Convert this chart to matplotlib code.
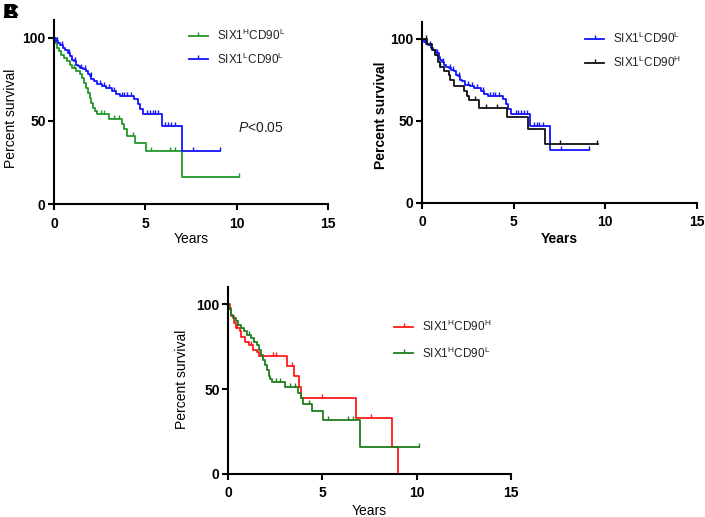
import numpy as np
import matplotlib
matplotlib.use("Agg")
import matplotlib.pyplot as plt
from matplotlib.lines import Line2D

plt.rcParams["font.family"] = ["Liberation Sans", "DejaVu Sans"]
plt.rcParams["mathtext.fontset"] = "custom"
plt.rcParams["mathtext.rm"] = "Liberation Sans"
plt.rcParams["mathtext.it"] = "Liberation Sans:italic"
plt.rcParams["mathtext.bf"] = "Liberation Sans:bold"
plt.rcParams["mathtext.default"] = "regular"

# Kaplan-Meier step curves (years, percent survival after each event)
hl_t = [0, 0.05, 0.15, 0.25, 0.4, 0.55, 0.7, 0.85, 1.0, 1.2, 1.4, 1.55, 1.65, 1.75,
        1.85, 1.95, 2.05, 2.15, 2.25, 2.35, 3.0, 3.72, 3.85, 4.0, 4.45, 5.05, 6.98, 10.1]
hl_s = [100, 97, 94, 92, 90, 88, 86, 84, 82, 80, 78, 76, 73, 70,
        67, 64, 61, 58, 56, 54, 51, 48, 45, 41, 37, 32, 16, 16]
hl_cens = [1.1, 2.55, 2.75, 3.3, 3.55, 4.3, 5.3, 6.35, 6.6, 10.1]

ll_t = [0, 0.1, 0.2, 0.35, 0.5, 0.6, 0.75, 0.9, 1.0, 1.1, 1.2, 1.3, 1.45, 1.6, 1.75,
        1.85, 1.95, 2.05, 2.2, 2.35, 2.6, 2.85, 3.2, 3.4, 3.6, 4.4, 4.6, 4.7, 4.85,
        5.89, 6.98, 9.1]
ll_s = [100, 98, 97, 96, 94, 93, 91, 89, 87, 86, 84, 83, 82, 81, 80,
        78, 77, 75, 74, 72, 71, 70, 68, 66, 65, 63, 60, 57, 54,
        47, 32, 32]
ll_cens = [0.15, 0.45, 0.8, 1.15, 1.5, 1.7, 2.0, 2.5, 2.75, 3.0, 3.3, 3.7, 3.85, 4.0,
           4.2, 5.1, 5.25, 5.4, 5.55, 5.7, 6.1, 6.25, 6.4, 6.6, 7.6, 9.1]

lh_t = [0, 0.27, 0.55, 0.73, 0.86, 0.97, 1.19, 1.46, 1.55, 1.74, 2.29, 2.47, 2.56,
        3.1, 4.66, 5.76, 6.71, 9.6]
lh_s = [100, 97, 93, 90, 86, 83, 80, 78, 75, 71, 68, 65, 62.5,
        58, 52, 45, 36, 36]
lh_cens = [0.2, 1.0, 2.9, 3.5, 4.1, 7.5, 9.55]

hh_t = [0, 0.09, 0.14, 0.3, 0.41, 0.63, 0.71, 0.89, 1.12, 1.34, 1.55, 1.66, 3.12,
        3.48, 3.75, 3.88, 6.79, 8.67, 9.0]
hh_s = [100, 98, 93, 89, 86, 84, 81, 78, 76, 73, 72, 69.5, 63.5,
        57.5, 51.5, 45, 33, 16, 0]
hh_cens = [0.5, 1.2, 2.4, 2.55, 3.4, 5.0, 7.6]

lab_hl = r"SIX1$^{H}$CD90$^{L}$"
lab_ll = r"SIX1$^{L}$CD90$^{L}$"
lab_lh = r"SIX1$^{L}$CD90$^{H}$"
lab_hh = r"SIX1$^{H}$CD90$^{H}$"

GREEN = "#22992a"
GREEN_DARK = "#1f7f1f"
BLUE = "#1414ff"
BLACK = "#111111"
RED = "#ff1a1a"


def draw_km(ax, t, s, cens, color):
    ax.step(t, s, where="post", color=color, lw=1.3)
    t = np.asarray(t)
    s = np.asarray(s)
    idx = np.searchsorted(t, cens, side="right") - 1
    ax.plot(cens, s[idx], linestyle="none", marker=2, markersize=3,
            markeredgewidth=1.0, color=color)


def style_axes(ax, ytop, bold_labels, ylab_xy, xlab_y):
    ax.set_xlim(0, 15)
    ax.set_ylim(0, ytop)
    ax.set_xticks([0, 5, 10, 15])
    ax.set_yticks([0, 50, 100])
    for side in ("top", "right"):
        ax.spines[side].set_visible(False)
    for side in ("left", "bottom"):
        ax.spines[side].set_linewidth(1.5)
    ax.tick_params(axis="both", width=1.5, length=4, labelsize=10)
    ax.tick_params(axis="x", pad=5)
    ax.tick_params(axis="y", pad=2)
    for lab in ax.get_xticklabels() + ax.get_yticklabels():
        lab.set_fontweight("bold")
    w = "bold" if bold_labels else "normal"
    ax.set_ylabel("Percent survival", fontsize=10, fontweight=w)
    ax.set_xlabel("Years", fontsize=10, fontweight=w)
    ax.yaxis.set_label_coords(*ylab_xy)
    ax.xaxis.set_label_coords(0.5, xlab_y)


def add_legend(ax, fig, entries, x, y, spacing):
    handles = [Line2D([], [], color=c, lw=1.3, marker=2, markersize=3,
                      markeredgewidth=1.0) for c, _ in entries]
    labels = [l for _, l in entries]
    ax.legend(handles, labels, loc="upper left", bbox_to_anchor=(x, y),
              bbox_transform=fig.transFigure, frameon=False, fontsize=8.5,
              handlelength=1.6, handletextpad=0.8, labelspacing=spacing,
              borderpad=0, borderaxespad=0, labelcolor="#222222")


fig = plt.figure(figsize=(7.05, 5.17), dpi=100)

# panel A
axA = fig.add_axes([0.0766, 0.6054, 0.3887, 0.3559])
draw_km(axA, hl_t, hl_s, hl_cens, GREEN)
draw_km(axA, ll_t, ll_s, ll_cens, BLUE)
style_axes(axA, 110.8, False, (-0.131, 0.467), -0.152)
add_legend(axA, fig, [(GREEN, lab_hl), (BLUE, lab_ll)], 0.268, 0.946, 0.7)
axA.text(0.3376, 1 - 128 / 517, r"$\mathit{P}$<0.05", transform=fig.transFigure,
         fontsize=10, va="center", ha="left", color="#222222")

# panel B
axB = fig.add_axes([0.5986, 0.6074, 0.3901, 0.3501])
draw_km(axB, ll_t, ll_s, ll_cens, BLUE)
draw_km(axB, lh_t, lh_s, lh_cens, BLACK)
style_axes(axB, 110.1, True, (-0.124, 0.486), -0.160)
add_legend(axB, fig, [(BLUE, lab_ll), (BLACK, lab_lh)], 0.830, 0.940, 0.75)

# panel C
axC = fig.add_axes([0.3234, 0.0832, 0.4014, 0.3623])
draw_km(axC, hh_t, hh_s, hh_cens, RED)
draw_km(axC, hl_t, hl_s, hl_cens, GREEN_DARK)
style_axes(axC, 110.4, False, (-0.138, 0.508), -0.160)
add_legend(axC, fig, [(RED, lab_hh), (GREEN_DARK, lab_hl)], 0.559, 0.383, 0.95)

# overlapping panel letters, as in the source figure
for letter in ("A", "B", "C"):
    fig.text(0.004, 0.995, letter, fontsize=15, fontweight="bold",
             va="top", ha="left")

fig.savefig("out.png", dpi=100)
